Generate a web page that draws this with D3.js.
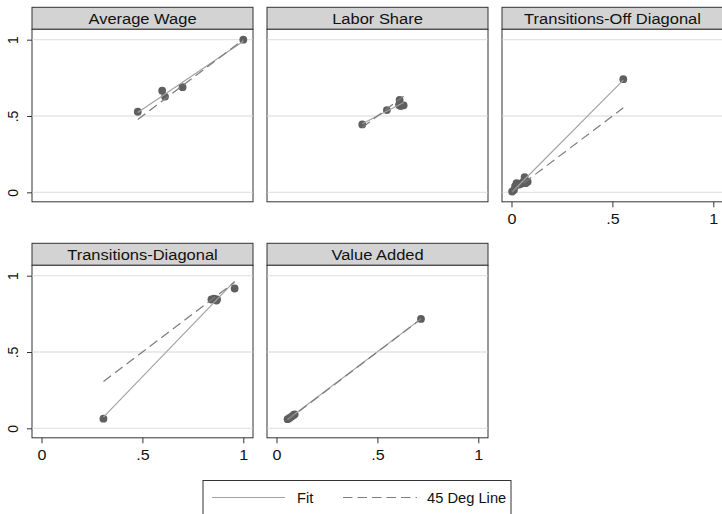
<!DOCTYPE html>
<html>
<head>
<meta charset="utf-8">
<script src="https://cdn.jsdelivr.net/npm/d3@7"></script>
<style>
body{margin:0;background:#fff}
svg{display:block;font-family:"Liberation Sans",Arial,Helvetica,sans-serif}
</style>
</head>
<body>
<svg id="chart" width="722" height="514"></svg>
<script>
// panel titles, in drawing order (row by row)
var titles=['Average Wage','Labor Share','Transitions-Off Diagonal','Transitions-Diagonal','Value Added']

// points
var wageX=[0.477,0.598,0.612,0.699,1.0]
var wageY=[0.528,0.666,0.627,0.689,1.0]
var laborX=[0.425,0.547,0.607,0.610,0.615,0.630]
var laborY=[0.445,0.539,0.572,0.605,0.565,0.570]
var offX=[0.003,0.012,0.018,0.025,0.035,0.045,0.055,0.065,0.070,0.080,0.554]
var offY=[0.005,0.015,0.040,0.060,0.050,0.055,0.065,0.100,0.060,0.070,0.741]
var diagX=[0.307,0.842,0.855,0.867,0.870,0.957]
var diagY=[0.063,0.844,0.850,0.837,0.845,0.916]
var vaX=[0.055,0.065,0.075,0.085,0.090,0.716]
var vaY=[0.060,0.068,0.077,0.088,0.092,0.717]

var tickVals=[0,0.5,1]
var tickLabels=['0','.5','1']
var legendLabels=['Fit','45 Deg Line']

var seriesX=[wageX,laborX,offX,diagX,vaX]
var seriesY=[wageY,laborY,offY,diagY,vaY]

var svg=d3.select('#chart')
var conf={
    left:[32,267,502],
    top:[7.3,243.3],
    width:221,
    titleH:22,
    plotH:172.5,
    xDom:[-0.047,1.048],
    yDom:[-0.062,1.068]
}
var colors={
    frame:'#333',
    title:'#d3d3d3',
    grid:'#e4e4e4',
    marker:'#5f5f5f',
    fit:'#a3a3a3',
    deg:'#7c7c7c'
}

function ols(xs,ys)
{
    var mx=d3.mean(xs),my=d3.mean(ys),sxy=0,sxx=0
    for(let i=0;i<xs.length;i++)
    {
        sxy+=(xs[i]-mx)*(ys[i]-my)
        sxx+=(xs[i]-mx)*(xs[i]-mx)
    }
    var b=sxy/sxx
    return {a:my-b*mx,b:b}
}

for(let p=0;p<titles.length;p++)
{
    var col=p%3, row=Math.floor(p/3)
    var x0=conf.left[col], y0=conf.top[row]
    var py=y0+conf.titleH
    var x=d3.scaleLinear().domain(conf.xDom).range([x0,x0+conf.width])
    var y=d3.scaleLinear().domain(conf.yDom).range([py+conf.plotH,py])
    var g=svg.append('g').attr('id','panel-'+p)

    // title bar
    g.append('rect')
        .attr('x',x0).attr('y',y0)
        .attr('width',conf.width).attr('height',conf.titleH)
        .attr('fill',colors.title)
        .attr('stroke',colors.frame).attr('stroke-width',1)
    g.append('text')
        .attr('transform',`translate(${x0+conf.width/2},${y0+16.5}) scale(1.1,1)`)
        .attr('text-anchor','middle')
        .attr('font-size',15)
        .attr('fill','#111')
        .text(titles[p])

    // plot region
    g.append('rect')
        .attr('x',x0).attr('y',py)
        .attr('width',conf.width).attr('height',conf.plotH)
        .attr('fill','#fff')
        .attr('stroke',colors.frame).attr('stroke-width',1)
    g.append('g').selectAll('line')
        .data(tickVals)
        .join('line')
        .attr('x1',x0+0.5).attr('x2',x0+conf.width-0.5)
        .attr('y1',d=>y(d)).attr('y2',d=>y(d))
        .attr('stroke',colors.grid).attr('stroke-width',1.3)

    var xs=seriesX[p], ys=seriesY[p]
    var pts=xs.map((v,i)=>({x:v,y:ys[i]}))
    g.append('g').selectAll('circle')
        .data(pts)
        .join('circle')
        .attr('cx',d=>x(d.x)).attr('cy',d=>y(d.y))
        .attr('r',3.9)
        .attr('fill',colors.marker)

    var lo=d3.min(xs), hi=d3.max(xs), f=ols(xs,ys)
    g.append('line')
        .attr('x1',x(lo)).attr('y1',y(f.a+f.b*lo))
        .attr('x2',x(hi)).attr('y2',y(f.a+f.b*hi))
        .attr('stroke',colors.fit).attr('stroke-width',1.2)
    g.append('line')
        .attr('x1',x(lo)).attr('y1',y(lo))
        .attr('x2',x(hi)).attr('y2',y(hi))
        .attr('stroke',colors.deg).attr('stroke-width',1.2)
        .attr('stroke-dasharray','9.5 5')

    // axes: y on the first column, x on the bottom panels
    if(col==0)
    {
        var ya=g.append('g')
            .attr('transform',`translate(${x0},0)`)
            .call(d3.axisLeft(y).tickValues(tickVals).tickFormat((d,i)=>tickLabels[i]).tickSize(5).tickSizeOuter(0))
        ya.select('.domain').remove()
        ya.selectAll('.tick line').attr('stroke',colors.frame)
        ya.selectAll('.tick text')
            .attr('x',null).attr('dy',null)
            .attr('text-anchor','middle')
            .attr('font-size',14).attr('font-family',null)
            .attr('fill','#111')
            .attr('transform','translate(-14.5,0) rotate(-90)')
    }
    if(p>=2)
    {
        var xa=g.append('g')
            .attr('transform',`translate(0,${py+conf.plotH})`)
            .call(d3.axisBottom(x).tickValues(tickVals).tickFormat((d,i)=>tickLabels[i]).tickSize(5.5).tickSizeOuter(0))
        xa.select('.domain').remove()
        xa.selectAll('.tick line').attr('stroke',colors.frame)
        xa.selectAll('.tick text')
            .attr('y',22).attr('dy',null)
            .attr('font-size',14).attr('font-family',null)
            .attr('fill','#111')
            .attr('transform','scale(1.15,1)')
    }
}

// legend
var leg=svg.append('g').attr('id','legend')
leg.append('rect')
    .attr('x',203).attr('y',480.5)
    .attr('width',308).attr('height',45)
    .attr('fill','#fff')
    .attr('stroke',colors.frame).attr('stroke-width',1)
leg.append('line')
    .attr('x1',212).attr('x2',285).attr('y1',497.5).attr('y2',497.5)
    .attr('stroke',colors.fit).attr('stroke-width',1.2)
leg.append('line')
    .attr('x1',343).attr('x2',417).attr('y1',497.5).attr('y2',497.5)
    .attr('stroke',colors.deg).attr('stroke-width',1.2)
    .attr('stroke-dasharray','9.5 5')
var lx=[297,427]
for(let i=0;i<legendLabels.length;i++)
{
    leg.append('text')
        .attr('transform',`translate(${lx[i]},502.5) scale(1.05,1)`)
        .attr('font-size',14)
        .attr('fill','#111')
        .text(legendLabels[i])
}
</script>
</body>
</html>
